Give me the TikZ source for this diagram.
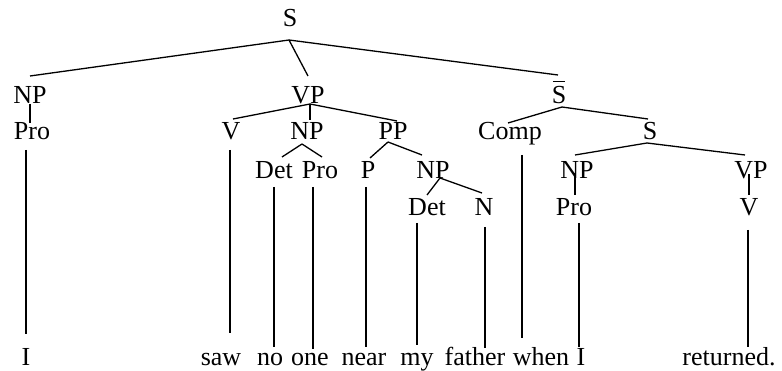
\documentclass[tikz,border=0pt]{standalone}
\usepackage{fontspec}
\setmainfont{Liberation Serif}
\newcommand\barS{\leavevmode\rlap{\hspace*{1.2pt}\rule[22pt]{12pt}{1.3pt}}S}
\begin{document}
\begin{tikzpicture}[x=1pt,y=-1pt,
  lab/.style={inner sep=0pt, anchor=base, font=\fontsize{26}{30}\selectfont},
  br/.style={line width=1.3pt, black}]
\useasboundingbox (0,0) rectangle (782,371);
% labels
\node[lab] (s0) at (290,27) {S};
\node[lab] (npa) at (30,104) {NP};
\node[lab] (vpa) at (308,104) {VP};
\node[lab] (sbar) at (559,104) {\barS};
\node[lab] (proa) at (32,140) {Pro};
\node[lab] (va) at (231,140) {V};
\node[lab] (npb) at (307,140) {NP};
\node[lab] (pp) at (393,140) {PP};
\node[lab] (comp) at (510,140) {Comp};
\node[lab] (sb) at (650,140) {S};
\node[lab] (detb) at (274,179) {Det};
\node[lab] (prob) at (320,179) {Pro};
\node[lab] (p) at (368,179) {P};
\node[lab] (npc) at (433,179) {NP};
\node[lab] (npd) at (577,179) {NP};
\node[lab] (vpd) at (751,179) {VP};
\node[lab] (detc) at (427,216) {Det};
\node[lab] (n) at (484,216) {N};
\node[lab] (prod) at (574,216) {Pro};
\node[lab] (vd) at (749,216) {V};
% words
\node[lab] (w1) at (26,366) {I};
\node[lab] (saw) at (221,366) {saw};
\node[lab] (no) at (270,366) {no};
\node[lab] (one) at (310,366) {one};
\node[lab] (near) at (364,366) {near};
\node[lab] (my) at (417,366) {my};
\node[lab] (father) at (475,366) {father};
\node[lab] (when) at (541,366) {when};
\node[lab] (w9) at (581,366) {I};
\node[lab] (returned) at (729,366) {returned.};
% branches
\draw[br] ([shift={(-1,13)}]s0.base) -- ([shift={(0,-28)}]npa.base);
\draw[br] ([shift={(-1,13)}]s0.base) -- ([shift={(0,-28)}]vpa.base);
\draw[br] ([shift={(-1,13)}]s0.base) -- ([shift={(-1,-29)}]sbar.base);
\draw[br] ([shift={(0,0)}]npa.base) -- ([shift={(-2,-17)}]proa.base);
\draw[br] ([shift={(2,0)}]vpa.base) -- ([shift={(2,-21)}]va.base);
\draw[br] ([shift={(2,0)}]vpa.base) -- ([shift={(3,-20)}]npb.base);
\draw[br] ([shift={(2,0)}]vpa.base) -- ([shift={(4,-19)}]pp.base);
\draw[br] ([shift={(3,3)}]sbar.base) -- ([shift={(-2,-17)}]comp.base);
\draw[br] ([shift={(3,3)}]sbar.base) -- ([shift={(-2,-21)}]sb.base);
\draw[br] ([shift={(-5,4)}]npb.base) -- ([shift={(8,-22)}]detb.base);
\draw[br] ([shift={(-5,4)}]npb.base) -- ([shift={(2,-22)}]prob.base);
\draw[br] ([shift={(-5,2)}]pp.base) -- ([shift={(2,-21)}]p.base);
\draw[br] ([shift={(-5,2)}]pp.base) -- ([shift={(-11,-24)}]npc.base);
\draw[br] ([shift={(-3,3)}]sb.base) -- ([shift={(-2,-24)}]npd.base);
\draw[br] ([shift={(-3,3)}]sb.base) -- ([shift={(-6,-24)}]vpd.base);
\draw[br] ([shift={(7,-1)}]npc.base) -- ([shift={(0,-21)}]detc.base);
\draw[br] ([shift={(7,-1)}]npc.base) -- ([shift={(-2,-23)}]n.base);
\draw[br] ([shift={(-2,-6)}]npd.base) -- ([shift={(1,-21)}]prod.base);
\draw[br] ([shift={(-2,-5)}]vpd.base) -- ([shift={(0,-21)}]vd.base);
% leaves
\draw[br] ([shift={(-6,10)}]proa.base) -- ([shift={(0,-32)}]w1.base);
\draw[br] ([shift={(-1,10)}]va.base) -- ([shift={(9,-33)}]saw.base);
\draw[br] ([shift={(0,8)}]detb.base) -- ([shift={(4,-19)}]no.base);
\draw[br] ([shift={(-7,8)}]prob.base) -- ([shift={(3,-17)}]one.base);
\draw[br] ([shift={(-2,8)}]p.base) -- ([shift={(2,-19)}]near.base);
\draw[br] ([shift={(-10,7)}]detc.base) -- ([shift={(0,-21)}]my.base);
\draw[br] ([shift={(1,11)}]n.base) -- ([shift={(10,-18)}]father.base);
\draw[br] ([shift={(12,15)}]comp.base) -- ([shift={(-19,-28)}]when.base);
\draw[br] ([shift={(5,7)}]prod.base) -- ([shift={(-2,-19)}]w9.base);
\draw[br] ([shift={(-1,14)}]vd.base) -- ([shift={(19,-19)}]returned.base);
\end{tikzpicture}
\end{document}
